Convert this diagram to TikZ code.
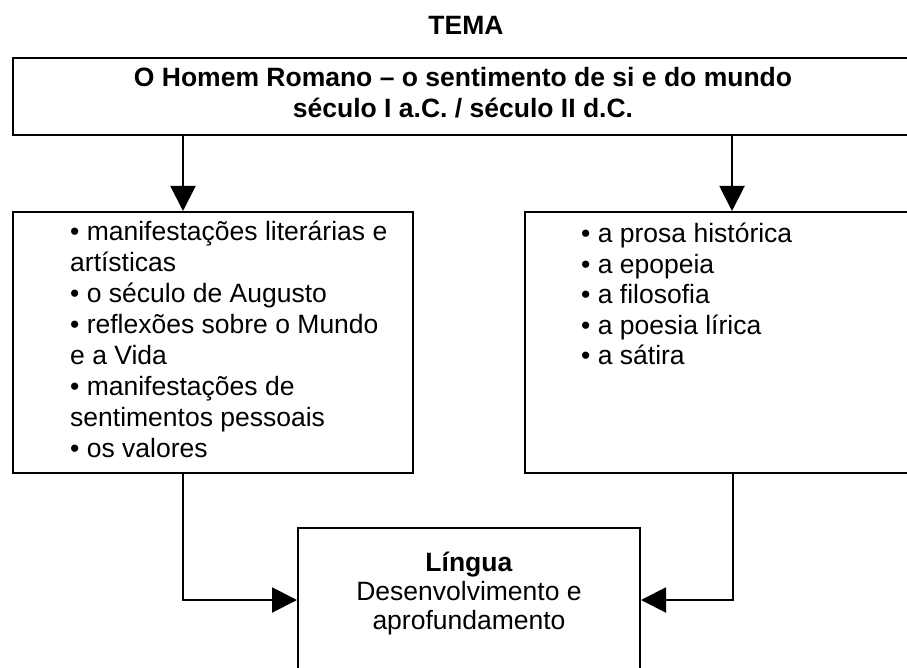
\documentclass[tikz,border=0pt]{standalone}
\usepackage{fontspec}
\setmainfont{Liberation Sans}
\usetikzlibrary{arrows.meta}
\tikzset{
  boxnode/.style={draw, line width=2pt, rectangle, inner sep=0pt, anchor=north west},
  txtnode/.style={inner sep=0pt, font=\fontsize{26.5}{31}\selectfont},
  arr/.style={line width=2pt, -{Triangle[length=25pt,width=25pt]}},
}
\begin{document}
\begin{tikzpicture}[x=1pt,y=-1pt]
\useasboundingbox (0,0) rectangle (907,668);
\clip (0,0) rectangle (907,668);
% title
\node[txtnode, anchor=north, font=\fontsize{26.5}{31}\selectfont\bfseries] (tema) at (466,12.6) {\strut TEMA};
% boxes
\node[boxnode, minimum width=902pt, minimum height=77pt] (T) at (12,57) {};
\node[txtnode, anchor=north, align=center, font=\fontsize{26.5}{31}\selectfont\bfseries] (Tt) at (463,64.3)
  {\strut O Homem Romano – o sentimento de si e do mundo\\ século I a.C. / século II d.C.};
\node[boxnode, minimum width=400pt, minimum height=261pt] (L) at (12,211) {};
\node[txtnode, anchor=north west, align=left] (Lt) at (70,218.8)
  {\strut • manifestações literárias e\\ artísticas\\ • o século de Augusto\\ • reflexões sobre o Mundo\\ e a Vida\\ • manifestações de\\ sentimentos pessoais\\ • os valores};
\node[boxnode, minimum width=400pt, minimum height=261pt] (R) at (524,211) {};
\node[txtnode, anchor=north west, align=left, font=\fontsize{26.5}{30.5}\selectfont] (Rt) at (581,221)
  {\strut • a prosa histórica\\ • a epopeia\\ • a filosofia\\ • a poesia lírica\\ • a sátira};
\node[draw, line width=2pt, rectangle, inner sep=0pt, minimum width=342pt, minimum height=144pt] (B) at (469,600) {};
\node[txtnode, anchor=north, align=center, font=\fontsize{26.5}{29}\selectfont] (Bt) at (469,551)
  {\strut\textbf{Língua}\\ Desenvolvimento e\\ aprofundamento};
% connectors
\draw[arr] ([xshift=171pt]T.south west) -- ([xshift=171pt]L.north west);
\draw[arr] ([xshift=208pt]T.south -| R.north west) -- ([xshift=208pt]R.north west);
\draw[arr] ([xshift=171pt]L.south west) |- (B.west);
\draw[arr] ([xshift=209pt]R.south west) |- (B.east);
\end{tikzpicture}
\end{document}
